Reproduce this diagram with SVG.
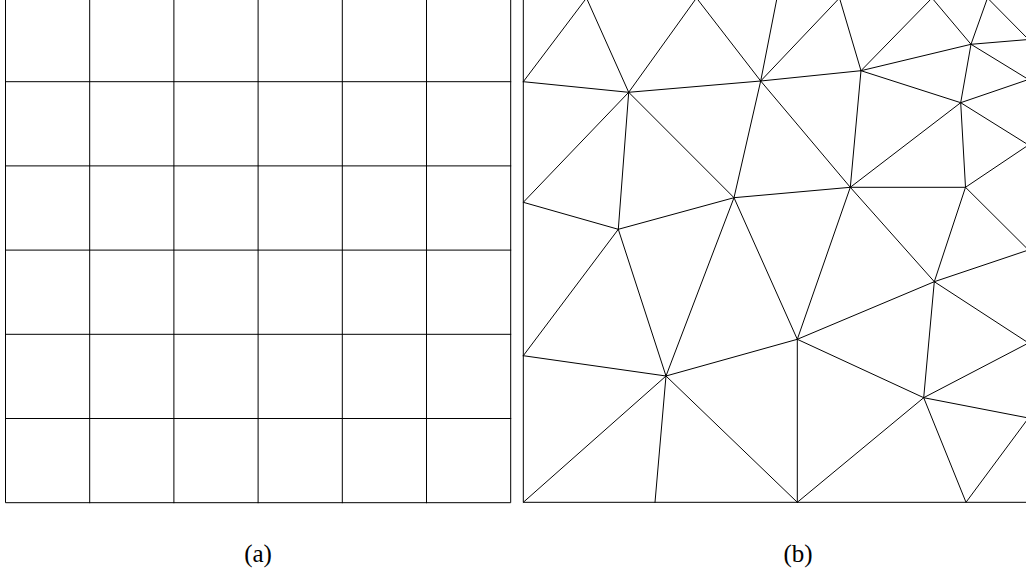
<svg xmlns="http://www.w3.org/2000/svg" width="1026" height="575" viewBox="0 0 1026 575">
<style>
.m{fill:none;stroke:#000;stroke-width:1;stroke-linecap:square}
.lbl{font-family:"Liberation Serif","DejaVu Serif",serif;font-size:25px;fill:#000;text-anchor:middle}
</style>
<rect x="0" y="0" width="1026" height="575" fill="#fff"/>
<g id="panel-a">
<path class="m" d="M5.5,-2.5V502.7H510.7V-2.5
M89.7,-2.5V502.7 M173.9,-2.5V502.7 M258.1,-2.5V502.7 M342.3,-2.5V502.7 M426.5,-2.5V502.7
M5.5,81.7H510.7 M5.5,165.9H510.7 M5.5,250.1H510.7 M5.5,334.3H510.7 M5.5,418.5H510.7"/>
</g>
<g id="panel-b">
<path class="m" d="M523.3,-2V502.3H1028.5V-2"/>
<path class="m" d="
M523.3,81.7L586.5,-2L628.7,92.3L523.3,81.7
M628.7,92.3L696.5,-2L760.7,81L628.7,92.3
M628.7,92.3L523.3,202.3L618.3,229.3L628.7,92.3
M628.7,92.3L734,197.7L618.3,229.3
M760.7,81L734,197.7L850.3,187.3L760.7,81
M760.7,81L777,-2 M760.7,81L839.5,-2L861,70.7L760.7,81
M861,70.7L850.3,187.3 M861,70.7L932,-2L971,44.3L861,70.7
M971,44.3L987.5,-2L1028.5,39.5L971,44.3L1028.5,79.5L960.7,102.7L971,44.3
M861,70.7L960.7,102.7L850.3,187.3L965.5,187.3L960.7,102.7L1028.5,145L965.5,187.3L1028.5,250
M965.5,187.3L934.3,281.7L850.3,187.3L797.3,339.3L734,197.7L666,376L618.3,229.3
M523.3,355.7L618.3,229.3 M523.3,355.7L666,376L523.3,502.3 M666,376L655,502.3 M666,376L797.3,502.3
M666,376L797.3,339.3L797.3,502.3L923.7,397.7L797.3,339.3L934.3,281.7L923.7,397.7
M934.3,281.7L1028.5,250 M934.3,281.7L1028.5,343L923.7,397.7L1028.5,418L966,502.3L923.7,397.7"/>
</g>
<g id="labels">
<text class="lbl" x="258" y="562">(a)</text>
<text class="lbl" x="798" y="562">(b)</text>
</g>
</svg>
